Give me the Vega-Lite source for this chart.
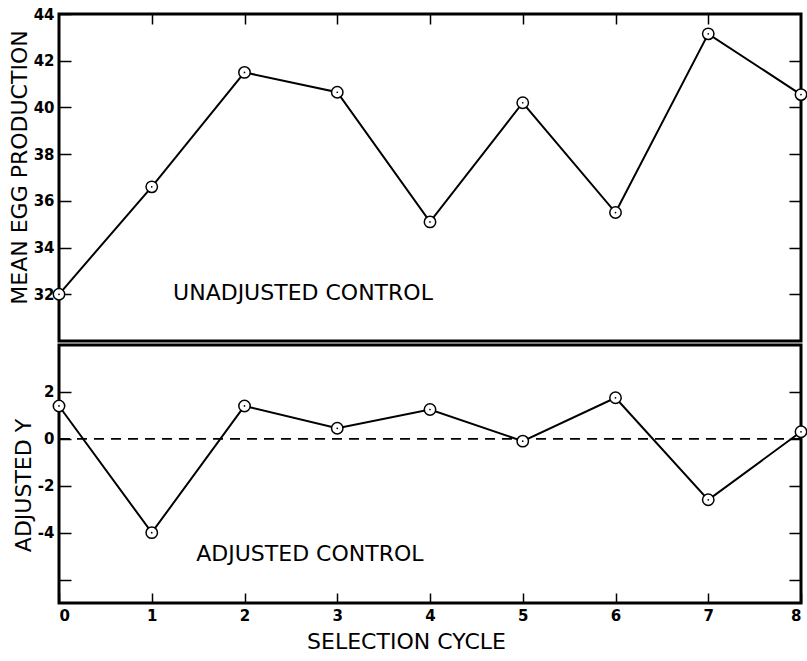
{
  "$schema": "https://vega.github.io/schema/vega-lite/v6.json",
  "padding": {"left": 6, "top": 5, "right": 4, "bottom": 4},
  "background": "white",
  "spacing": 0,
  "config": {
    "view": {"stroke": "black", "strokeWidth": 3},
    "font": "DejaVu Sans",
    "axis": {
      "grid": false, "domain": false, "tickColor": "black", "tickWidth": 1.5,
      "labelColor": "black", "titleColor": "black",
      "labelFont": "DejaVu Sans", "titleFont": "DejaVu Sans",
      "labelFontSize": 15, "labelFontWeight": "bold",
      "titleFontSize": 22, "titleFontWeight": "normal"
    }
  },
  "datasets": {
    "unadj": [
      {"cycle": 0, "value": 32.0},
      {"cycle": 1, "value": 36.6},
      {"cycle": 2, "value": 41.5},
      {"cycle": 3, "value": 40.65},
      {"cycle": 4, "value": 35.1},
      {"cycle": 5, "value": 40.2},
      {"cycle": 6, "value": 35.5},
      {"cycle": 7, "value": 43.15},
      {"cycle": 8, "value": 40.55}
    ],
    "adj": [
      {"cycle": 0, "value": 1.4},
      {"cycle": 1, "value": -4.0},
      {"cycle": 2, "value": 1.4},
      {"cycle": 3, "value": 0.45},
      {"cycle": 4, "value": 1.25},
      {"cycle": 5, "value": -0.1},
      {"cycle": 6, "value": 1.75},
      {"cycle": 7, "value": -2.6},
      {"cycle": 8, "value": 0.3}
    ]
  },
  "vconcat": [
    {
      "width": 742,
      "height": 327,
      "layer": [
        {
          "data": {"name": "unadj"},
          "mark": {"type": "line", "color": "black", "strokeWidth": 2},
          "encoding": {
            "x": {"field": "cycle", "type": "quantitative", "scale": {"domain": [0, 8], "nice": false},
                  "axis": {"orient": "top", "values": [1, 2, 3, 4, 5, 6, 7], "labels": false, "tickSize": -10, "title": null}},
            "y": {"field": "value", "type": "quantitative", "scale": {"domain": [30, 44], "nice": false, "zero": false},
                  "axis": {"values": [32, 34, 36, 38, 40, 42, 44], "tickSize": -12, "labelPadding": 17,
                           "title": "MEAN EGG PRODUCTION", "titlePadding": 2, "titleY": 153}}
          }
        },
        {
          "data": {"name": "unadj"},
          "mark": {"type": "point", "shape": "circle", "filled": true, "fill": "white", "stroke": "black", "strokeWidth": 1.5, "size": 130, "opacity": 1},
          "encoding": {
            "x": {"field": "cycle", "type": "quantitative", "axis": null},
            "y": {"field": "value", "type": "quantitative",
                  "axis": {"orient": "right", "values": [32, 34, 36, 38, 40, 42], "labels": false, "tickSize": -12, "title": null}}
          }
        },
        {
          "data": {"name": "unadj"},
          "mark": {"type": "point", "shape": "circle", "filled": true, "color": "black", "size": 3, "opacity": 1},
          "encoding": {
            "x": {"field": "cycle", "type": "quantitative", "axis": null},
            "y": {"field": "value", "type": "quantitative", "axis": null}
          }
        },
        {
          "data": {"values": [{"cycle": 1.23, "value": 32.05, "label": "UNADJUSTED  CONTROL"}]},
          "mark": {"type": "text", "align": "left", "baseline": "middle", "fontSize": 22, "font": "DejaVu Sans", "color": "black"},
          "encoding": {
            "x": {"field": "cycle", "type": "quantitative", "axis": null},
            "y": {"field": "value", "type": "quantitative", "axis": null},
            "text": {"field": "label"}
          }
        }
      ],
      "resolve": {"axis": {"x": "independent", "y": "independent"}}
    },
    {
      "width": 742,
      "height": 258,
      "layer": [
        {
          "data": {"values": [{"value": 0}]},
          "mark": {"type": "rule", "color": "black", "strokeWidth": 1.8, "strokeDash": [10, 7]},
          "encoding": {
            "y": {"field": "value", "type": "quantitative", "axis": null}
          }
        },
        {
          "data": {"name": "adj"},
          "mark": {"type": "line", "color": "black", "strokeWidth": 2},
          "encoding": {
            "x": {"field": "cycle", "type": "quantitative", "scale": {"domain": [0, 8], "nice": false},
                  "axis": {"orient": "bottom", "values": [0, 1, 2, 3, 4, 5, 6, 7, 8], "tickSize": -10, "labelPadding": 15,
                           "labelExpr": "'' + datum.value", "title": "SELECTION CYCLE", "titlePadding": 8, "titleX": 347}},
            "y": {"field": "value", "type": "quantitative", "scale": {"domain": [-7, 4], "nice": false, "zero": false},
                  "axis": {"values": [-6, -4, -2, 0, 2], "tickSize": -12, "labelPadding": 17,
                           "labelExpr": "datum.value == -6 ? '' : '' + datum.value",
                           "title": "ADJUSTED Y", "titlePadding": 2, "titleY": 140}}
          }
        },
        {
          "data": {"name": "adj"},
          "mark": {"type": "point", "shape": "circle", "filled": true, "fill": "white", "stroke": "black", "strokeWidth": 1.5, "size": 130, "opacity": 1},
          "encoding": {
            "x": {"field": "cycle", "type": "quantitative", "axis": null},
            "y": {"field": "value", "type": "quantitative",
                  "axis": {"orient": "right", "values": [-6, -4, -2, 0, 2], "labels": false, "tickSize": -12, "title": null}}
          }
        },
        {
          "data": {"name": "adj"},
          "mark": {"type": "point", "shape": "circle", "filled": true, "color": "black", "size": 3, "opacity": 1},
          "encoding": {
            "x": {"field": "cycle", "type": "quantitative", "axis": null},
            "y": {"field": "value", "type": "quantitative", "axis": null}
          }
        },
        {
          "data": {"values": [{"cycle": 1.48, "value": -4.9, "label": "ADJUSTED  CONTROL"}]},
          "mark": {"type": "text", "align": "left", "baseline": "middle", "fontSize": 22, "font": "DejaVu Sans", "color": "black"},
          "encoding": {
            "x": {"field": "cycle", "type": "quantitative", "axis": null},
            "y": {"field": "value", "type": "quantitative", "axis": null},
            "text": {"field": "label"}
          }
        }
      ],
      "resolve": {"axis": {"x": "independent", "y": "independent"}}
    }
  ]
}
